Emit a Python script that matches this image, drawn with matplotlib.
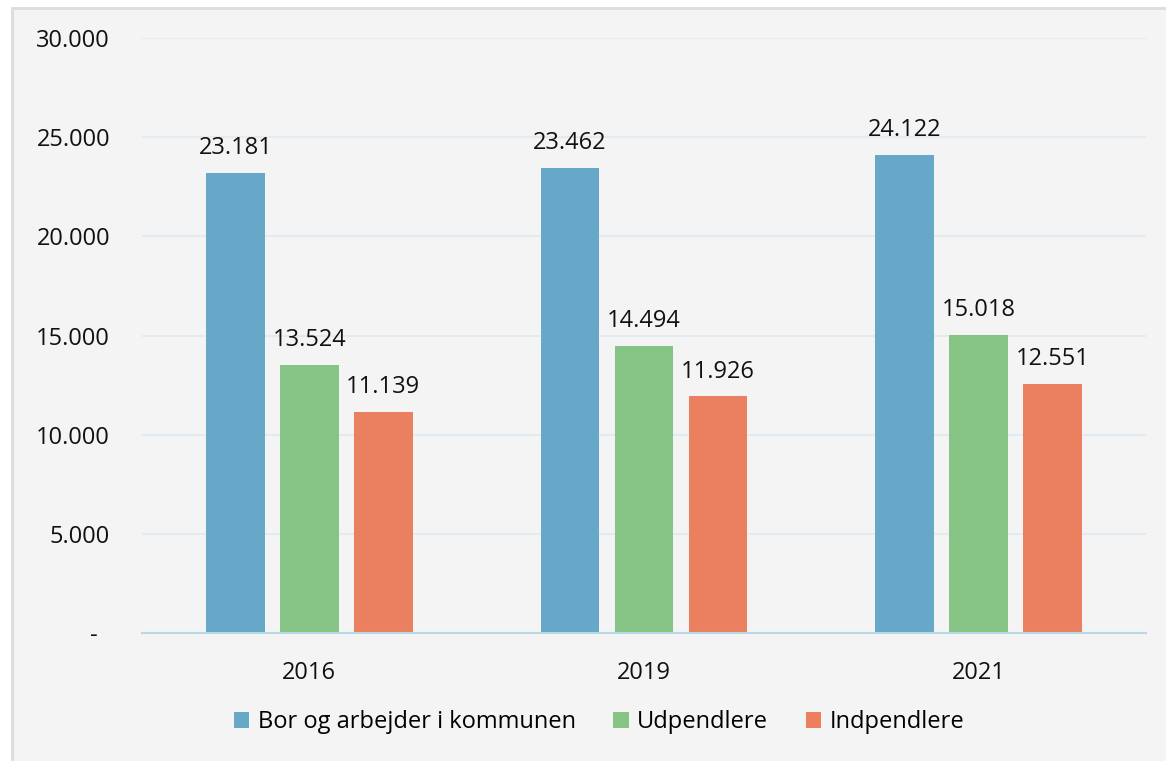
import matplotlib.pyplot as plt
from matplotlib.patches import Rectangle
import numpy as np

years = ["2016", "2019", "2021"]
series_names = ["Bor og arbejder i kommunen", "Udpendlere", "Indpendlere"]
bor = [23181, 23462, 24122]
udpendlere = [13524, 14494, 15018]
indpendlere = [11139, 11926, 12551]
colors = ["#67a8c8", "#85c485", "#eb8060"]
yticks = [0, 5000, 10000, 15000, 20000, 25000, 30000]

plt.rcParams['font.family'] = ['Open Sans', 'DejaVu Sans']
fs = 17

fig = plt.figure(figsize=(11.66, 7.61), dpi=100)
fig.patch.set_facecolor("white")
# panel background with grey border
fig.patches.append(Rectangle((12 / 1166, -0.01), 1.02, 1 - 8 / 761 + 0.01,
                             transform=fig.transFigure, facecolor="#f4f4f4",
                             edgecolor="#dcdcdc", linewidth=2, zorder=-10))

ax = fig.add_axes([142 / 1166, 1 - 633 / 761, (1146 - 142) / 1166, (633 - 38) / 761])
ax.set_facecolor("none")

x = np.arange(len(years))
width = 0.176
step = 0.221
for i, (vals, name) in enumerate(zip([bor, udpendlere, indpendlere], series_names)):
    bars = ax.bar(x + (i - 1) * step, vals, width, color=colors[i], label=name, zorder=3)
    for b, v in zip(bars, vals):
        ax.text(b.get_x() + b.get_width() / 2, v + 650, f"{v:,}".replace(",", "."),
                ha="center", va="bottom", fontsize=fs, color="#111111")

ax.set_xlim(-0.5, 2.5)
ax.set_ylim(0, 30000)
ax.set_yticks(yticks)
ax.set_yticklabels(["-  "] + [f"{t:,}".replace(",", ".") for t in yticks[1:]])
ax.set_xticks(x)
ax.set_xticklabels(years)
ax.grid(axis="y", color="#e2eaf2", linewidth=1.5, zorder=0)
for s in ["top", "right", "left"]:
    ax.spines[s].set_visible(False)
ax.spines["bottom"].set_color("#b8d8e6")
ax.spines["bottom"].set_linewidth(1.5)
ax.spines["bottom"].set_zorder(4)
ax.tick_params(axis="both", length=0, labelsize=fs, colors="#111111")
ax.tick_params(axis="y", pad=23)
ax.tick_params(axis="x", pad=20)

ax.legend(loc="center", bbox_to_anchor=(0.5 + (599 - 644) / 1004, -(722 - 633) / 595),
          ncol=3, frameon=False, fontsize=fs, handlelength=0.65, handleheight=0.65,
          handletextpad=0.35, columnspacing=1.6)

fig.savefig("out.png", dpi=100, facecolor=fig.get_facecolor())
